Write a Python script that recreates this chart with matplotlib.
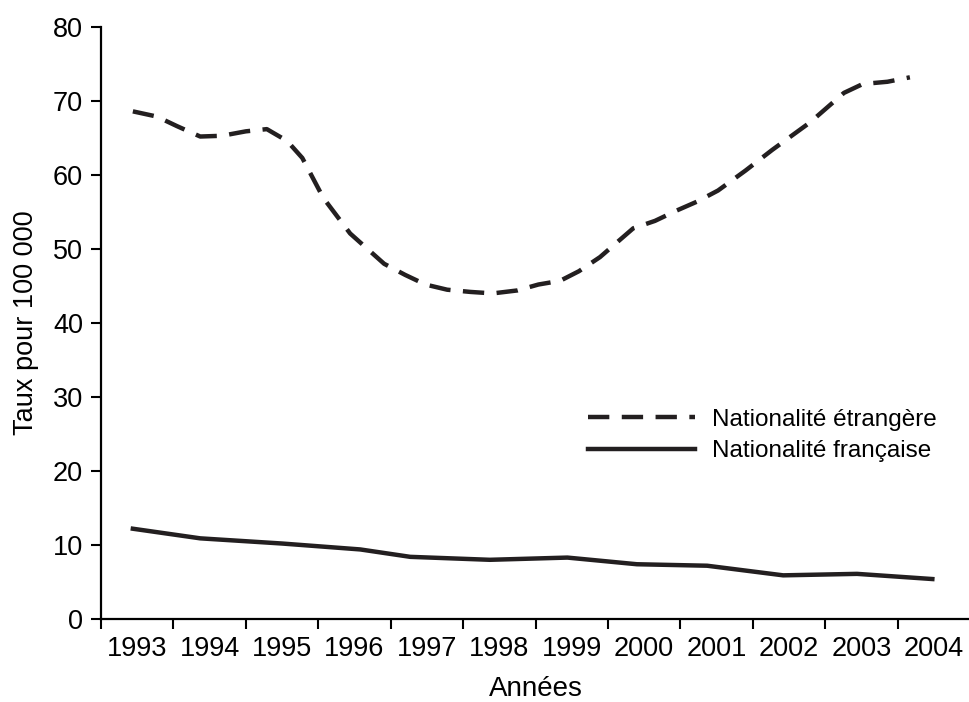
import matplotlib.pyplot as plt

plt.rcParams['font.family'] = ['Liberation Sans', 'DejaVu Sans']

years = list(range(1993, 2005))

# Nationalité étrangère (dashed)
etr_x = [1993.44, 1993.77, 1994.05, 1994.37, 1994.67, 1995.0, 1995.29, 1995.57,
         1995.78, 1996.07, 1996.44, 1996.91, 1997.2, 1997.48, 1997.78, 1998.1,
         1998.41, 1998.75, 1999.04, 1999.34, 1999.6, 1999.89, 2000.35, 2000.65,
         2000.95, 2001.23, 2001.52, 2001.9, 2002.27, 2002.79, 2003.26, 2003.52,
         2003.86, 2004.17]
etr_y = [68.6, 67.9, 66.6, 65.2, 65.3, 65.9, 66.2, 64.6,
         62.3, 56.9, 52.1, 48.0, 46.5, 45.2, 44.5, 44.2,
         44.0, 44.4, 45.2, 45.7, 47.0, 48.9, 52.8, 53.8,
         55.2, 56.4, 57.9, 60.6, 63.4, 67.1, 71.1, 72.3,
         72.6, 73.2]

# Nationalité française (solid)
fra_x = [1993.44, 1994.37, 1995.5, 1996.58, 1997.27, 1998.37, 1999.44, 2000.4,
         2001.37, 2002.42, 2003.44, 2004.48]
fra_y = [12.2, 10.9, 10.2, 9.4, 8.4, 8.0, 8.3, 7.4,
         7.2, 5.9, 6.1, 5.4]

ink = '#231f20'

fig = plt.figure(figsize=(9.7, 7.02), dpi=100)
ax = fig.add_axes([101 / 970, 1 - 619 / 702, 869 / 970, (619 - 27) / 702])

ax.plot(etr_x, etr_y, color=ink, lw=3.2, dashes=(4.8, 2.8),
        label='Nationalité étrangère')
ax.plot(fra_x, fra_y, color=ink, lw=3.2, solid_joinstyle='round',
        label='Nationalité française')

ax.set_xlim(1993, 2005)
ax.set_ylim(0, 80)
ax.set_yticks(range(0, 81, 10))
ax.set_xticks(years)
ax.set_xticklabels([])
ax.set_xticks([y + 0.5 for y in years], minor=True)
ax.set_xticklabels([str(y) for y in years], minor=True)
ax.tick_params(axis='x', which='minor', length=0, pad=12, labelsize=19.5)
ax.tick_params(axis='x', which='major', length=7, width=1.5, direction='out')
ax.tick_params(axis='y', length=7, width=1.5, pad=6, labelsize=19.5)

for s in ['top', 'right']:
    ax.spines[s].set_visible(False)
for s in ['left', 'bottom']:
    ax.spines[s].set_linewidth(1.6)
    ax.spines[s].set_color('black')

ax.set_xlabel('Années', fontsize=20, labelpad=10)
ax.set_ylabel('Taux pour 100 000', fontsize=19.5, labelpad=10)

ax.legend(loc='center left', bbox_to_anchor=(0.535, 0.31), frameon=False,
          fontsize=17.5, handlelength=4.4, handletextpad=0.7, labelspacing=0.4)

fig.savefig('out.png', dpi=100)
